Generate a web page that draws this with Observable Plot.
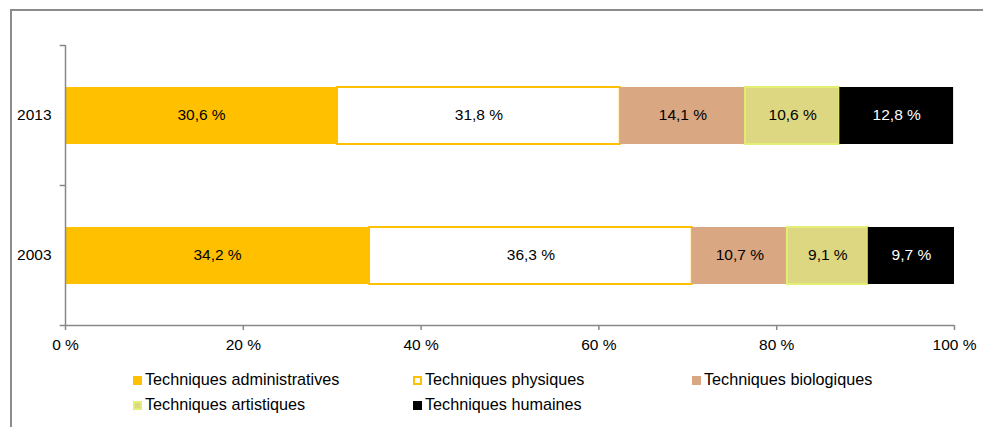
<!DOCTYPE html>
<html><head><meta charset="utf-8">
<script src="https://cdn.jsdelivr.net/npm/d3@7"></script>
<script src="https://cdn.jsdelivr.net/npm/@observablehq/plot@0.6"></script>
<style>
body{margin:0;background:#fff;font-family:"Liberation Sans",Arial,sans-serif;}
#wrap{position:relative;width:983px;height:427px;overflow:hidden;}
#frame{position:absolute;left:10px;top:9px;width:1000px;height:440px;border-left:2px solid #8c8c8c;border-top:2px solid #8c8c8c;}
#chart{position:absolute;left:0;top:0;}
.leg{position:absolute;font-size:16.2px;color:#000;white-space:nowrap;line-height:18px;}
.sw{display:inline-block;width:9px;height:9px;margin-right:3px;box-sizing:border-box;vertical-align:0px;}
</style></head>
<body><div id="wrap"><div id="frame"></div><div id="chart"></div><div id="legend"></div></div>
<script>
const years = ["2013", "2003"];
const categories = ["Techniques administratives", "Techniques physiques", "Techniques biologiques", "Techniques artistiques", "Techniques humaines"];
const values2013 = [30.6, 31.8, 14.1, 10.6, 12.8];
const values2003 = [34.2, 36.3, 10.7, 9.1, 9.7];
const fills = ["#FFC000", "#FFFFFF", "#D9A782", "#DDD781", "#000000"];
const strokes = ["none", "#FFC000", "none", "#E2EE74", "none"];
const textColors = ["#000", "#000", "#000", "#000", "#fff"];
const xTicks = [0, 20, 40, 60, 80, 100];

const data = [];
years.forEach((y, yi) => {
  const vals = yi === 0 ? values2013 : values2003;
  categories.forEach((c, ci) => data.push({year: y, cat: c, ci, value: vals[ci]}));
});
const fmt = v => v.toFixed(1).replace(".", ",") + " %";

const chart = Plot.plot({
  width: 983, height: 360,
  marginLeft: 65, marginRight: 29, marginTop: 45, marginBottom: 35,
  style: {fontFamily: '"Liberation Sans", Arial, sans-serif', fontSize: "15.5px", color: "#000", background: "transparent"},
  x: {domain: [0, 100], label: null},
  y: {domain: years, padding: 0, label: null},
  color: {type: "identity"},
  marks: [
    Plot.barX(data, Plot.stackX({
      x: "value", y: "year", order: categories, z: "cat",
      fill: d => fills[d.ci],
      stroke: d => strokes[d.ci] === "none" ? fills[d.ci] : strokes[d.ci],
      strokeWidth: d => strokes[d.ci] === "none" ? 0 : 2,
      insetTop: 42, insetBottom: 41
    })),
    Plot.text(data, Plot.stackX({
      x: "value", y: "year", order: categories, z: "cat",
      text: d => fmt(d.value),
      fill: d => textColors[d.ci],
      fontSize: 15.5
    })),
    Plot.ruleX([0], {stroke: "#888", strokeWidth: 1.5}),
    Plot.ruleY(["2003"], {y: d => d, dy: 70, stroke: "#888", strokeWidth: 1.5}),
    Plot.ruleY(years, {y: d => d, dy: -70, x1: -0.6, x2: 0, stroke: "#888", strokeWidth: 1.5}),
    Plot.ruleY(["2003"], {y: d => d, dy: 70, x1: -0.6, x2: 0, stroke: "#888", strokeWidth: 1.5}),
    Plot.axisY({tickSize: 0, tickPadding: 14, fontSize: 15.5, label: null}),
    Plot.axisX({ticks: xTicks, tickFormat: d => d + " %", tickSize: 5, tickPadding: 8, stroke: "#888", strokeWidth: 1.5, fontSize: 15.5, label: null})
  ]
});
document.getElementById("chart").appendChild(chart);

const legPos = [[133, 370], [413, 370], [692, 370], [133, 395], [413, 395]];
const legend = document.getElementById("legend");
categories.forEach((c, i) => {
  const d = document.createElement("div");
  d.className = "leg";
  d.style.left = legPos[i][0] + "px";
  d.style.top = legPos[i][1] + "px";
  const sw = document.createElement("span");
  sw.className = "sw";
  sw.style.background = fills[i];
  if (strokes[i] !== "none") sw.style.border = "2px solid " + strokes[i];
  d.appendChild(sw);
  d.appendChild(document.createTextNode(c));
  legend.appendChild(d);
});
</script></body></html>
